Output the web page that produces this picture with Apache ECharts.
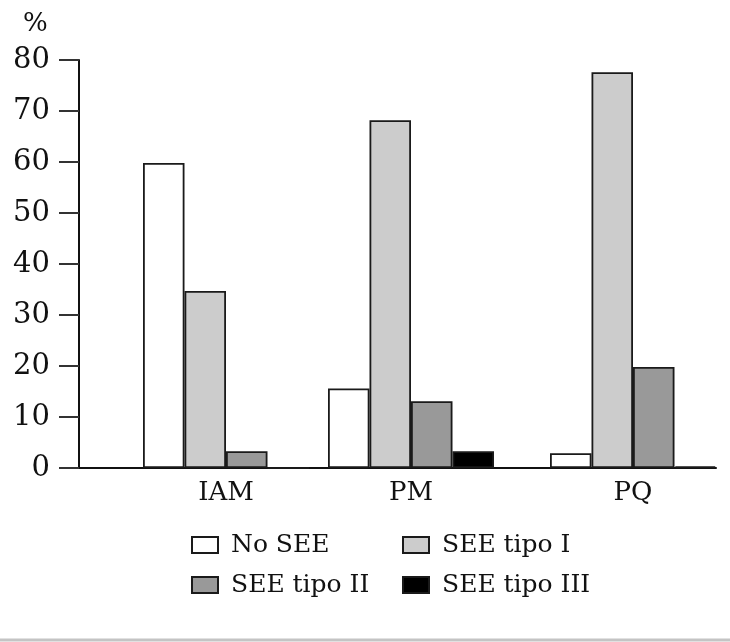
<!DOCTYPE html>
<html>
<head>
<meta charset="utf-8">
<script src="https://cdn.jsdelivr.net/npm/echarts@6/dist/echarts.min.js"></script>
<style>html,body{margin:0;padding:0;background:#fff}#c{width:730px;height:642px}</style>
</head>
<body>
<div id="c"></div>
<script>
// ---- data ----
var categories = ['IAM', 'PM', 'PQ'];
var seriesNames = ['No SEE', 'SEE tipo I', 'SEE tipo II', 'SEE tipo III'];
var noSEE    = [59.8, 15.6, 2.9];
var seeTipo1 = [34.7, 68.2, 77.6];
var seeTipo2 = [3.3, 13.1, 19.8];
var seeTipo3 = [0, 3.3, 0.3];
var yTicks = [0, 10, 20, 30, 40, 50, 60, 70, 80];

// ---- layout (group centre positions along the x axis, axis spans 0..637) ----
var groupPos = [147, 332, 554];
var xMax = 637;

var values = [noSEE, seeTipo1, seeTipo2, seeTipo3];
var colors = ['#ffffff', '#cccccc', '#999999', '#000000'];
var FONT = 'DejaVu Serif';

var chart = echarts.init(document.getElementById('c'), null, {renderer: 'canvas'});

var series = seriesNames.map(function (name, si) {
  return {
    name: name,
    type: 'bar',
    barWidth: 41.5,
    barGap: '0%',
    data: values[si].map(function (v, ci) { return [groupPos[ci], v]; }),
    itemStyle: {color: colors[si], borderColor: '#1a1a1a', borderWidth: 1.8},
    emphasis: {disabled: true},
    animation: false
  };
});

var legendText = {fontFamily: FONT, fontSize: 25, color: '#111', lineHeight: 30, padding: [0, 0, 0, 8]};

chart.setOption({
  animation: false,
  backgroundColor: '#ffffff',
  title: {
    text: '%', left: 18, top: 6,
    textStyle: {fontFamily: FONT, fontSize: 26, fontWeight: 'normal', color: '#111'}
  },
  grid: {left: 79, right: 14, top: 60, bottom: 174, containLabel: false},
  xAxis: {
    type: 'value', min: 0, max: xMax,
    splitLine: {show: false},
    axisLine: {show: true, lineStyle: {color: '#111', width: 2}},
    axisTick: {show: false},
    axisLabel: {
      customValues: groupPos,
      margin: 12,
      fontFamily: FONT, fontSize: 26, color: '#111',
      formatter: function (val) {
        var i = groupPos.indexOf(val);
        return i >= 0 ? categories[i] : '';
      }
    }
  },
  yAxis: {
    type: 'value', min: yTicks[0], max: yTicks[yTicks.length - 1], interval: 10,
    splitLine: {show: false},
    axisLine: {show: true, lineStyle: {color: '#111', width: 2}},
    axisTick: {show: true, length: 20, lineStyle: {color: '#333', width: 2}},
    axisLabel: {margin: 29, fontFamily: FONT, fontSize: 29, color: '#111'}
  },
  legend: [
    {
      data: ['No SEE', 'SEE tipo II'], orient: 'vertical', left: 186, top: 525,
      itemWidth: 26, itemHeight: 16, itemGap: 10, icon: 'rect',
      selectedMode: false, textStyle: legendText
    },
    {
      data: ['SEE tipo I', 'SEE tipo III'], orient: 'vertical', left: 397, top: 525,
      itemWidth: 26, itemHeight: 16, itemGap: 10, icon: 'rect',
      selectedMode: false, textStyle: legendText
    }
  ],
  graphic: [{
    type: 'line', shape: {x1: 0, y1: 640, x2: 730, y2: 640},
    style: {stroke: '#c4c4c4', lineWidth: 3}, silent: true
  }],
  series: series
});
</script>
</body>
</html>
